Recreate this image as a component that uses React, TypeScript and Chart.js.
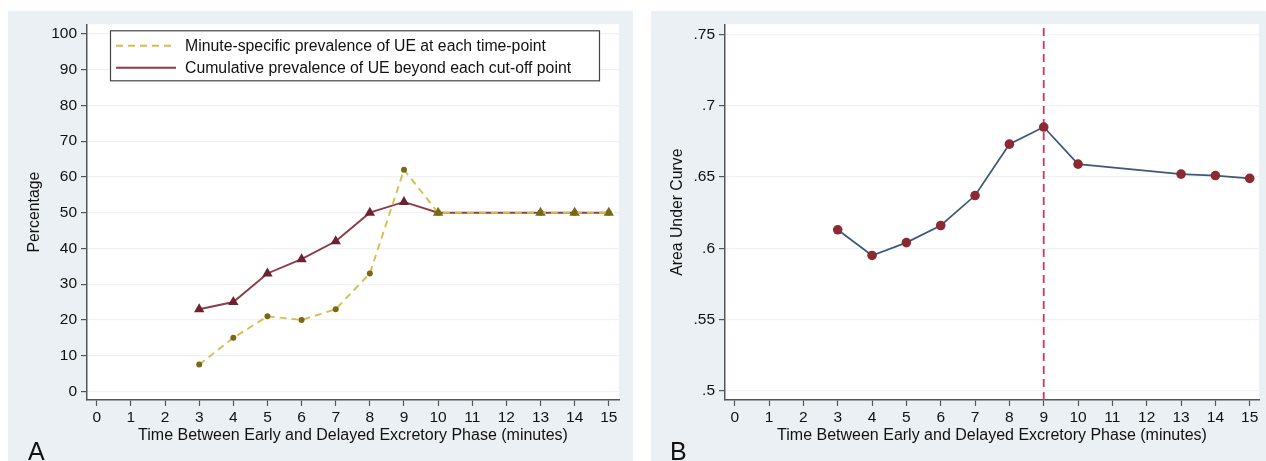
import React, { useEffect, useRef } from "react";
import { Chart, registerables } from "chart.js";

Chart.register(...registerables);

// ---------- data ----------
const times = [3, 4, 5, 6, 7, 8, 9, 10, 13, 14, 15];
const minuteSpecific = [7.5, 15, 21, 20, 23, 33, 62, 50, 50, 50, 50];
const cumulative = [23, 25, 33, 37, 42, 50, 53, 50, 50, 50, 50];
const auc = [0.613, 0.595, 0.604, 0.616, 0.637, 0.673, 0.685, 0.659, 0.652, 0.651, 0.649];
const xTicks = [0, 1, 2, 3, 4, 5, 6, 7, 8, 9, 10, 11, 12, 13, 14, 15];
const yTicksA = [0, 10, 20, 30, 40, 50, 60, 70, 80, 90, 100];
const yTicksB = [0.5, 0.55, 0.6, 0.65, 0.7, 0.75];
const cutoffTime = 9;
const legendLabels = [
  "Minute-specific prevalence of UE at each time-point",
  "Cumulative prevalence of UE beyond each cut-off point",
];
const xTitle = "Time Between Early and Delayed Excretory Phase (minutes)";
const yTitleA = "Percentage";
const yTitleB = "Area Under Curve";

// ---------- style ----------
const FONT = "'Liberation Sans', Arial, Helvetica, sans-serif";
const PANEL_BG = "#eaf0f3";
const GRID = "#edf2f5";
const AXIS = "#555555";
const TEXT = "#111111";
const YELLOW = "#d5bd4e";
const OLIVE = "#7a6914";
const MAROON_LINE = "#8a3d47";
const MAROON_TRI = "#6d2231";
const NAVY = "#3e5879";
const DOT_RED = "#8b2b31";
const CUT_RED = "#c93a5c";

const plotBg = {
  id: "plotBg",
  beforeDraw(chart: any) {
    const { ctx, chartArea } = chart;
    ctx.save();
    ctx.fillStyle = "#ffffff";
    ctx.fillRect(chartArea.left, chartArea.top, chartArea.right - chartArea.left, chartArea.bottom - chartArea.top);
    ctx.restore();
  },
};

const panelLetter = {
  id: "panelLetter",
  afterDraw(chart: any, _args: any, opts: any) {
    const { ctx } = chart;
    ctx.save();
    ctx.fillStyle = TEXT;
    ctx.font = `25px ${FONT}`;
    ctx.textBaseline = "alphabetic";
    ctx.textAlign = "left";
    ctx.fillText(opts.text, opts.x, opts.y);
    ctx.restore();
  },
};

const boxLegend = {
  id: "boxLegend",
  afterDraw(chart: any, _args: any, opts: any) {
    if (!opts || !opts.enabled) return;
    const { ctx, chartArea } = chart;
    const left = chartArea.left + 23;
    const top = chartArea.top + 6;
    const w = 489;
    const h = 50;
    ctx.save();
    ctx.fillStyle = "#ffffff";
    ctx.fillRect(left, top, w, h);
    ctx.strokeStyle = "#444444";
    ctx.lineWidth = 1.2;
    ctx.strokeRect(left + 0.5, top + 0.5, w, h);
    const rows = [top + 15.5, top + 37.5];
    const sets = chart.data.datasets;
    rows.forEach((y, i) => {
      const ds = sets[i];
      ctx.beginPath();
      ctx.strokeStyle = ds.borderColor;
      ctx.lineWidth = ds.borderWidth;
      ctx.setLineDash(ds.borderDash || []);
      ctx.moveTo(left + 6, y);
      ctx.lineTo(left + 66, y);
      ctx.stroke();
      ctx.setLineDash([]);
      ctx.fillStyle = TEXT;
      ctx.font = `15.8px ${FONT}`;
      ctx.textBaseline = "middle";
      ctx.textAlign = "left";
      ctx.fillText(legendLabels[i], left + 75, y + 1);
    });
    ctx.restore();
  },
};

function xScale(min: number, max: number) {
  return {
    type: "linear",
    min,
    max,
    afterBuildTicks: (s: any) => {
      s.ticks = xTicks.map((v) => ({ value: v }));
    },
    afterFit: (s: any) => {
      s.height = 61;
    },
    grid: {
      display: true,
      drawOnChartArea: false,
      drawTicks: true,
      tickLength: 6,
      tickColor: AXIS,
      tickWidth: 1.2,
    },
    border: { display: true, color: AXIS, width: 1.5 },
    ticks: {
      color: TEXT,
      font: { family: FONT, size: 15.5 },
      padding: 2,
      autoSkip: false,
      maxRotation: 0,
      callback: (v: any) => String(v),
    },
    title: {
      display: true,
      text: xTitle,
      color: TEXT,
      font: { family: FONT, size: 16 },
      padding: { top: 0, bottom: 16 },
    },
  };
}

function yScale(min: number, max: number, ticks: number[], title: string, width: number, fmt: (v: number) => string) {
  return {
    type: "linear",
    min,
    max,
    afterBuildTicks: (s: any) => {
      s.ticks = ticks.map((v) => ({ value: v }));
    },
    afterFit: (s: any) => {
      s.width = width;
    },
    grid: {
      display: true,
      drawOnChartArea: true,
      color: GRID,
      lineWidth: 1.2,
      drawTicks: true,
      tickLength: 6,
      tickColor: AXIS,
      tickWidth: 1.2,
    },
    border: { display: true, color: AXIS, width: 1.5 },
    ticks: {
      color: TEXT,
      font: { family: FONT, size: 15.5 },
      padding: 4,
      autoSkip: false,
      callback: (v: any) => fmt(Number(v)),
    },
    title: {
      display: true,
      text: title,
      color: TEXT,
      font: { family: FONT, size: 15.8 },
      padding: { top: 17, bottom: 0 },
    },
  };
}

function useChart(ref: React.RefObject<HTMLCanvasElement | null>, makeConfig: () => any) {
  useEffect(() => {
    if (!ref.current) return;
    const chart = new Chart(ref.current, makeConfig());
    return () => chart.destroy();
  }, []);
}

const Y_A: [number, number] = [-2.4, 102.7];
const Y_B: [number, number] = [0.4937, 0.757];

function PanelA() {
  const ref = useRef<HTMLCanvasElement>(null);
  useChart(ref, () => ({
    type: "line",
    data: {
      datasets: [
        {
          label: legendLabels[0],
          data: times.map((t, i) => ({ x: t, y: minuteSpecific[i] })),
          borderColor: YELLOW,
          borderWidth: 1.9,
          borderDash: [7, 5],
          pointRadius: 3,
          pointBackgroundColor: OLIVE,
          pointBorderWidth: 0,
          tension: 0,
        },
        {
          label: legendLabels[1],
          data: times.map((t, i) => ({ x: t, y: cumulative[i] })),
          borderColor: MAROON_LINE,
          borderWidth: 1.9,
          pointStyle: "triangle",
          pointRadius: 6,
          pointBackgroundColor: (c: any) => (c.raw && c.raw.x >= 10 ? OLIVE : MAROON_TRI),
          pointBorderWidth: 0,
          tension: 0,
        },
      ],
    },
    options: {
      responsive: false,
      animation: false,
      layout: { padding: { left: 0, top: 13, right: 14, bottom: 0 } },
      scales: {
        x: xScale(-0.287, 15.3),
        y: yScale(Y_A[0], Y_A[1], yTicksA, yTitleA, 79, (v) => String(v)),
      },
      plugins: {
        legend: { display: false },
        tooltip: { enabled: false },
        boxLegend: { enabled: true },
        panelLetter: { text: "A", x: 20, y: 449 },
      },
    },
    plugins: [plotBg, boxLegend, panelLetter],
  }));
  return <canvas ref={ref} width={625} height={450} style={{ width: 625, height: 450, display: "block" }} />;
}

function PanelB() {
  const ref = useRef<HTMLCanvasElement>(null);
  useChart(ref, () => ({
    type: "line",
    data: {
      datasets: [
        {
          label: yTitleB,
          data: times.map((t, i) => ({ x: t, y: auc[i] })),
          borderColor: NAVY,
          borderWidth: 1.7,
          pointRadius: 4.8,
          pointBackgroundColor: DOT_RED,
          pointBorderWidth: 0,
          tension: 0,
        },
        {
          label: "cut-off",
          data: [
            { x: cutoffTime, y: Y_B[0] },
            { x: cutoffTime, y: Y_B[1] },
          ],
          borderColor: CUT_RED,
          borderWidth: 1.8,
          borderDash: [8, 5],
          pointRadius: 0,
        },
      ],
    },
    options: {
      responsive: false,
      animation: false,
      layout: { padding: { left: 0, top: 13, right: 7, bottom: 0 } },
      scales: {
        x: xScale(-0.283, 15.27),
        y: yScale(Y_B[0], Y_B[1], yTicksB, yTitleB, 74, (v) => String(Math.round(v * 100) / 100).replace(/^0/, "")),
      },
      plugins: {
        legend: { display: false },
        tooltip: { enabled: false },
        panelLetter: { text: "B", x: 19, y: 449 },
      },
    },
    plugins: [plotBg, panelLetter],
  }));
  return <canvas ref={ref} width={615} height={450} style={{ width: 615, height: 450, display: "block" }} />;
}

export default function App() {
  return (
    <div style={{ position: "fixed", left: 0, top: 0, width: 1266, height: 461, background: "#ffffff", overflow: "hidden" }}>
      <div style={{ position: "absolute", left: 8, top: 11, width: 625, height: 450, background: PANEL_BG }}>
        <PanelA />
      </div>
      <div style={{ position: "absolute", left: 651, top: 11, width: 615, height: 450, background: PANEL_BG }}>
        <PanelB />
      </div>
    </div>
  );
}
